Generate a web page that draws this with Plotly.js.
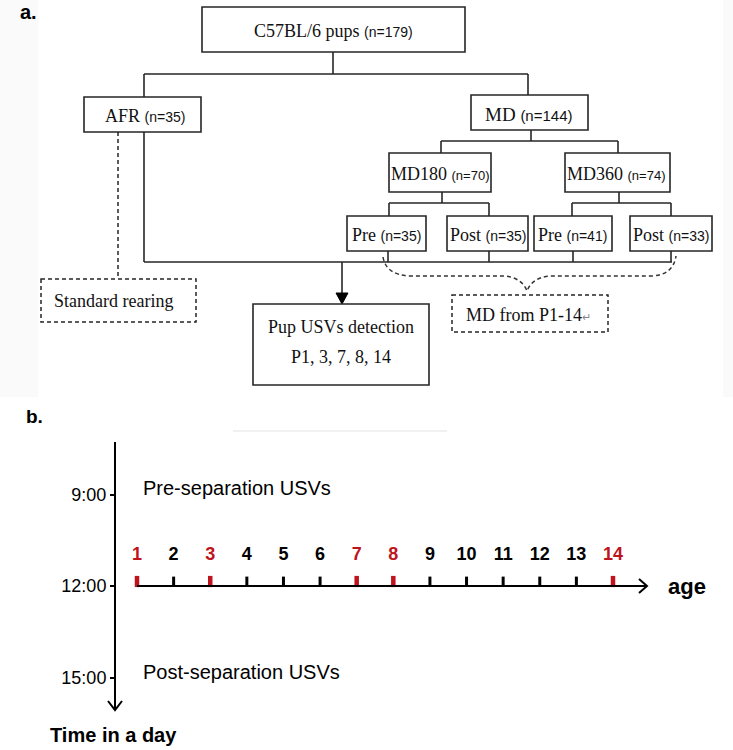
<!DOCTYPE html>
<html><head><meta charset="utf-8">
<script src="https://cdn.plot.ly/plotly-3.0.1.min.js"></script>
<style>html,body{margin:0;padding:0;background:#fff}#chart{width:733px;height:750px}</style>
</head><body><div id="chart"></div>
<script>
// ---------------- data ----------------
const groupLabels = ['C57BL/6 pups','AFR','MD','MD180','MD360','Pre','Post','Pre','Post'];
const groupN = [179,35,144,70,74,35,35,41,33];
const sideLabels = ['Standard rearing','MD from P1-14'];
const detectionTitle = 'Pup USVs detection';
const detectionDays = [1,3,7,8,14];
const ageDays = [1,2,3,4,5,6,7,8,9,10,11,12,13,14];
const timeValues = [9,12,15];
const timeLabels = ['9:00','12:00','15:00'];
const sessionLabels = ['Pre-separation USVs','Post-separation USVs'];
const sessionTimes = [9,15];
const separationTime = 12;
const panelLabels = ['a.','b.'];
const axisNames = ['age','Time in a day'];

// ---------------- layout / geometry (pixels) ----------------
const W = 733, H = 750;
const SERIF = "'Liberation Serif', 'Times New Roman', serif";
const SANS = "'Liberation Sans', Arial, sans-serif";
const INK = '#262626';
const RED = '#c0141c';
const boxPos = [[202,465,7,52],[84,201,97,132],[471,588,95,130],[389,491,153,192],[565,670,153,192],
                [347,426,216,251],[447,528,216,251],[534,612,216,251],[630,712,216,251]];
const textPos = [[333,31],[145,116],[529,114],[440,174],[616,174],[386,235],[488,235],[572,235],[671,235]];
const labelSize = [18,18,19,18,18,18,18,18,18];
const nSize = [14,14,15,13,13,14,14,14,14];
const solidSegs = [
  [333,52,333,74],[144,74,528,74],[144,74,144,97],[528,74,528,95],
  [531,130,531,141],[441,141,618,141],[441,141,441,153],[618,141,618,153],
  [442,192,442,203],[389,203,489,203],[389,203,389,216],[489,203,489,216],
  [619,192,619,203],[572,203,671,203],[572,203,572,216],[671,203,671,216],
  [144,132,144,262],[144,262,672,262],
  [388,251,388,262],[489,251,489,262],[573,251,573,262],[671,251,671,262],
  [342,262,342,296]
];
// panel b geometry
const dayPxFirst = 137, dayPxLast = 613;
const axisXpx = 115, yTopPx = 442, yBotPx = 710, noonPx = 586, pxPerHour = 30.5;
const pxPerDay = (dayPxLast - dayPxFirst) / (ageDays[ageDays.length-1] - ageDays[0]);
const x2range = [ageDays[0] - dayPxFirst/pxPerDay, ageDays[0] + (W - dayPxFirst)/pxPerDay];
const y2range = [separationTime + (yBotPx - noonPx)/pxPerHour, separationTime - (noonPx - yTopPx)/pxPerHour];
const ageArrowEnd = ageDays[0] + (647 - dayPxFirst)/pxPerDay;

const isHi = d => detectionDays.includes(d);
const normDays = ageDays.filter(d => !isHi(d));
const hiDays = ageDays.filter(isHi);
const tickY = separationTime - 4.5/pxPerHour;
const labelY = separationTime - 31/pxPerHour;

const traces = [
  {x:[null], y:[null], xaxis:'x', yaxis:'y', type:'scatter', mode:'markers', hoverinfo:'skip', showlegend:false},
  {x:normDays, y:normDays.map(()=>tickY), xaxis:'x2', yaxis:'y2', type:'scatter', mode:'markers',
   marker:{symbol:'line-ns', size:7, line:{width:3, color:'#000'}}, hoverinfo:'skip', showlegend:false},
  {x:hiDays, y:hiDays.map(()=>tickY), xaxis:'x2', yaxis:'y2', type:'scatter', mode:'markers',
   marker:{symbol:'line-ns', size:8, line:{width:4.5, color:RED}}, hoverinfo:'skip', showlegend:false},
  {x:normDays, y:normDays.map(()=>labelY), xaxis:'x2', yaxis:'y2', type:'scatter', mode:'text',
   text:normDays.map(d=>'<b>'+d+'</b>'), textfont:{family:SANS, size:18, color:'#000'}, hoverinfo:'skip', showlegend:false},
  {x:hiDays, y:hiDays.map(()=>labelY), xaxis:'x2', yaxis:'y2', type:'scatter', mode:'text',
   text:hiDays.map(d=>'<b>'+d+'</b>'), textfont:{family:SANS, size:18, color:RED}, hoverinfo:'skip', showlegend:false}
];

const shapes = [];
// faint background strips of panel a
shapes.push({type:'rect', xref:'x', yref:'y', x0:0, x1:38, y0:0, y1:397, fillcolor:'#fafafa', line:{width:0}, layer:'below'});
shapes.push({type:'rect', xref:'x', yref:'y', x0:723, x1:733, y0:0, y1:397, fillcolor:'#fafafa', line:{width:0}, layer:'below'});
shapes.push({type:'line', xref:'x', yref:'y', x0:233, x1:447, y0:431, y1:431, line:{color:'#ededed', width:1.5}});
boxPos.forEach(b => shapes.push({type:'rect', xref:'x', yref:'y', x0:b[0], x1:b[1], y0:b[2], y1:b[3], line:{color:INK, width:1.6}, fillcolor:'rgba(0,0,0,0)'}));
solidSegs.forEach(s => shapes.push({type:'line', xref:'x', yref:'y', x0:s[0], y0:s[1], x1:s[2], y1:s[3], line:{color:INK, width:1.6}}));
// arrow head to detection box
shapes.push({type:'path', xref:'x', yref:'y', path:'M 336 293 L 348 293 L 342 304 Z', fillcolor:'#000', line:{color:'#000', width:1}});
// detection box
shapes.push({type:'rect', xref:'x', yref:'y', x0:253, x1:429, y0:304, y1:385, line:{color:INK, width:1.6}});
// dashed elements
const DASH = '4px,3px';
shapes.push({type:'line', xref:'x', yref:'y', x0:118, x1:118, y0:132, y1:279, line:{color:INK, width:1.5, dash:DASH}});
shapes.push({type:'rect', xref:'x', yref:'y', x0:41, x1:196, y0:279, y1:322, line:{color:INK, width:1.5, dash:DASH}});
shapes.push({type:'rect', xref:'x', yref:'y', x0:452, x1:608, y0:295, y1:332, line:{color:INK, width:1.5, dash:DASH}});
shapes.push({type:'path', xref:'x', yref:'y',
  path:'M 383 257 Q 386 275 410 276 L 505 276 Q 522 278 527 291 Q 532 278 549 276 L 652 276 Q 673 275 676 256',
  line:{color:'#333', width:1.5, dash:DASH}});
// panel b: age axis line + arrow heads
shapes.push({type:'line', xref:'x2', yref:'y2', x0:ageDays[0], x1:ageArrowEnd, y0:separationTime, y1:separationTime, line:{color:'#000', width:2}});
shapes.push({type:'path', xref:'x', yref:'y', path:'M 639 579 L 647 586 L 639 593', line:{color:'#000', width:2}});
shapes.push({type:'path', xref:'x', yref:'y', path:'M 108 701 L 115 710 L 122 701', line:{color:'#000', width:2}});

const annotations = [];
groupLabels.forEach((g,i) => annotations.push({
  xref:'x', yref:'y', x:textPos[i][0], y:textPos[i][1], showarrow:false, xanchor:'center', yanchor:'middle',
  text: g + ' <span style="font-family:' + "'Liberation Sans'" + ';font-size:' + nSize[i] + 'px">(n=' + groupN[i] + ')</span>',
  font:{family:SERIF, size:labelSize[i], color:'#111'}
}));
annotations.push({xref:'x', yref:'y', x:52, y:301, showarrow:false, xanchor:'left', yanchor:'middle', text:sideLabels[0], font:{family:SERIF, size:18, color:'#111'}});
annotations.push({xref:'x', yref:'y', x:464, y:315, showarrow:false, xanchor:'left', yanchor:'middle',
  text:sideLabels[1] + '<span style="font-size:11px;fill:#888">↵</span>', font:{family:SERIF, size:18, color:'#111'}});
annotations.push({xref:'x', yref:'y', x:341, y:327, showarrow:false, xanchor:'center', yanchor:'middle', text:detectionTitle, font:{family:SERIF, size:18, color:'#111'}});
annotations.push({xref:'x', yref:'y', x:341, y:357, showarrow:false, xanchor:'center', yanchor:'middle', text:'P' + detectionDays.join(', '), font:{family:SERIF, size:18, color:'#111'}});
annotations.push({xref:'x', yref:'y', x:18, y:12, showarrow:false, xanchor:'left', yanchor:'middle', text:'<b>'+panelLabels[0]+'</b>', font:{family:SANS, size:20, color:'#000'}});
annotations.push({xref:'x', yref:'y', x:24, y:416, showarrow:false, xanchor:'left', yanchor:'middle', text:'<b>'+panelLabels[1]+'</b>', font:{family:SANS, size:19, color:'#000'}});
sessionLabels.forEach((s,i) => annotations.push({xref:'x', yref:'y2', x:141, y:sessionTimes[i], yshift:6, showarrow:false, xanchor:'left', yanchor:'middle', text:s, font:{family:SANS, size:20, color:'#000'}}));
annotations.push({xref:'x', yref:'y2', x:666, y:separationTime, showarrow:false, xanchor:'left', yanchor:'middle', text:'<b>'+axisNames[0]+'</b>', font:{family:SANS, size:22, color:'#000'}});
annotations.push({xref:'x', yref:'y', x:48, y:735, showarrow:false, xanchor:'left', yanchor:'middle', text:'<b>'+axisNames[1]+'</b>', font:{family:SANS, size:20, color:'#000'}});

const layout = {
  width:W, height:H, margin:{l:0, r:0, t:0, b:0, pad:0},
  paper_bgcolor:'#fff', plot_bgcolor:'rgba(0,0,0,0)', showlegend:false,
  xaxis:{domain:[0,1], range:[0,W], visible:false, fixedrange:true},
  yaxis:{domain:[0,1], range:[H,0], visible:false, fixedrange:true},
  xaxis2:{domain:[0,1], range:x2range, visible:false, fixedrange:true, anchor:'y2'},
  yaxis2:{domain:[(H-yBotPx)/H, (H-yTopPx)/H], range:y2range, anchor:'free', position:axisXpx/W,
          showline:true, linecolor:'#000', linewidth:2, ticks:'outside', ticklen:4, tickwidth:2, tickcolor:'#000',
          tickvals:timeValues, ticktext:timeLabels, tickfont:{family:SANS, size:18, color:'#000'},
          showgrid:false, zeroline:false, fixedrange:true, ticklabelstandoff:0},
  shapes:shapes, annotations:annotations
};
Plotly.newPlot('chart', traces, layout, {staticPlot:true, displayModeBar:false});
</script></body></html>
